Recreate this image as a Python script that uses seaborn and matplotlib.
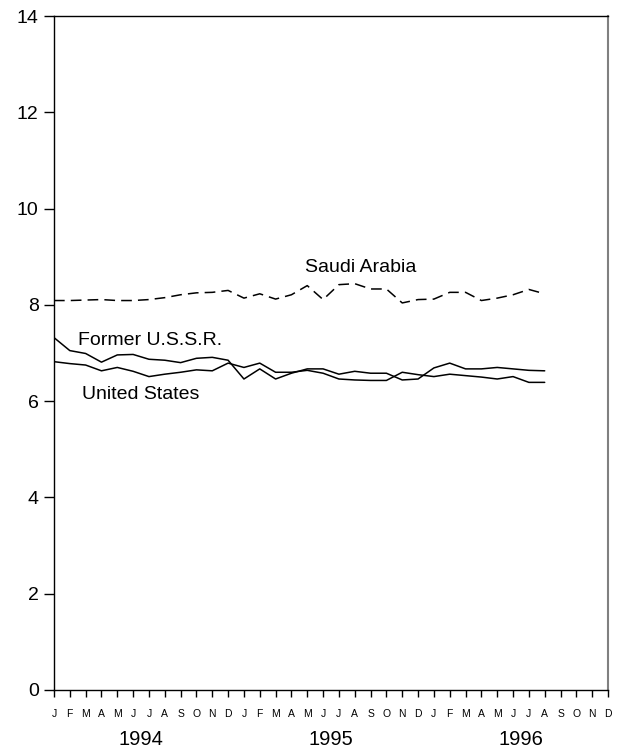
import pandas as pd
import matplotlib.pyplot as plt
import seaborn as sns

months = ["J", "F", "M", "A", "M", "J", "J", "A", "S", "O", "N", "D"] * 3
years = ["1994", "1995", "1996"]

saudi = [8.09, 8.09, 8.10, 8.11, 8.09, 8.09, 8.11, 8.15, 8.21, 8.25, 8.26, 8.30,
         8.14, 8.23, 8.12, 8.21, 8.40, 8.11, 8.42, 8.44, 8.33, 8.33, 8.04, 8.11,
         8.12, 8.26, 8.26, 8.09, 8.14, 8.21, 8.32, 8.23]
ussr = [7.32, 7.05, 6.99, 6.81, 6.96, 6.97, 6.87, 6.85, 6.80, 6.89, 6.91, 6.85,
        6.46, 6.67, 6.46, 6.58, 6.67, 6.67, 6.56, 6.62, 6.58, 6.58, 6.44, 6.46,
        6.69, 6.79, 6.67, 6.67, 6.70, 6.67, 6.64, 6.63]
us = [6.82, 6.78, 6.75, 6.63, 6.70, 6.62, 6.51, 6.56, 6.60, 6.65, 6.63, 6.79,
      6.70, 6.79, 6.60, 6.60, 6.64, 6.58, 6.46, 6.44, 6.43, 6.43, 6.60, 6.55,
      6.51, 6.56, 6.53, 6.50, 6.46, 6.51, 6.39, 6.39]

df = pd.DataFrame({
    "month": list(range(len(saudi))) * 3,
    "value": saudi + ussr + us,
    "country": ["Saudi Arabia"] * len(saudi) + ["Former U.S.S.R."] * len(ussr)
               + ["United States"] * len(us),
})

sns.set_theme(style="ticks")
plt.rcParams["font.family"] = ["Liberation Sans", "DejaVu Sans"]
plt.rcParams["text.color"] = "black"
plt.rcParams["xtick.color"] = "black"
plt.rcParams["ytick.color"] = "black"

fig = plt.figure(figsize=(6.24, 7.49), dpi=100)
ax = fig.add_axes([0.0865, 0.0788, 0.8879, 0.8998])

sns.lineplot(data=df, x="month", y="value", units="country", estimator=None,
             style="country",
             dashes={"Saudi Arabia": (7, 4), "Former U.S.S.R.": "",
                     "United States": ""},
             color="black", linewidth=1.1, legend=False, ax=ax)

ax.set_xlim(0, 35)
ax.set_ylim(0, 14)
ax.set_yticks(range(0, 15, 2))
ax.set_xticks(range(36))
ax.set_xticklabels(months, fontsize=7.5)
ax.tick_params(axis="y", labelsize=14, length=7, width=1, pad=4)
ax.tick_params(axis="x", length=5, width=1, pad=9)
ax.set_xlabel("")
ax.set_ylabel("")

for s in ["left", "bottom", "top"]:
    ax.spines[s].set_color("black")
    ax.spines[s].set_linewidth(1)
ax.spines["right"].set_color("#808080")
ax.spines["right"].set_linewidth(1.5)

for i, yr in enumerate(years):
    ax.text(5.5 + 12 * i, -1.03, yr, ha="center", va="center", fontsize=14.5,
            clip_on=False)

ax.text(15.86, 8.77, "Saudi Arabia", fontsize=14, ha="left", va="center")
ax.text(1.52, 7.27, "Former U.S.S.R.", fontsize=14, ha="left", va="center")
ax.text(1.77, 6.13, "United States", fontsize=14, ha="left", va="center")

fig.savefig("out.png", dpi=100)
